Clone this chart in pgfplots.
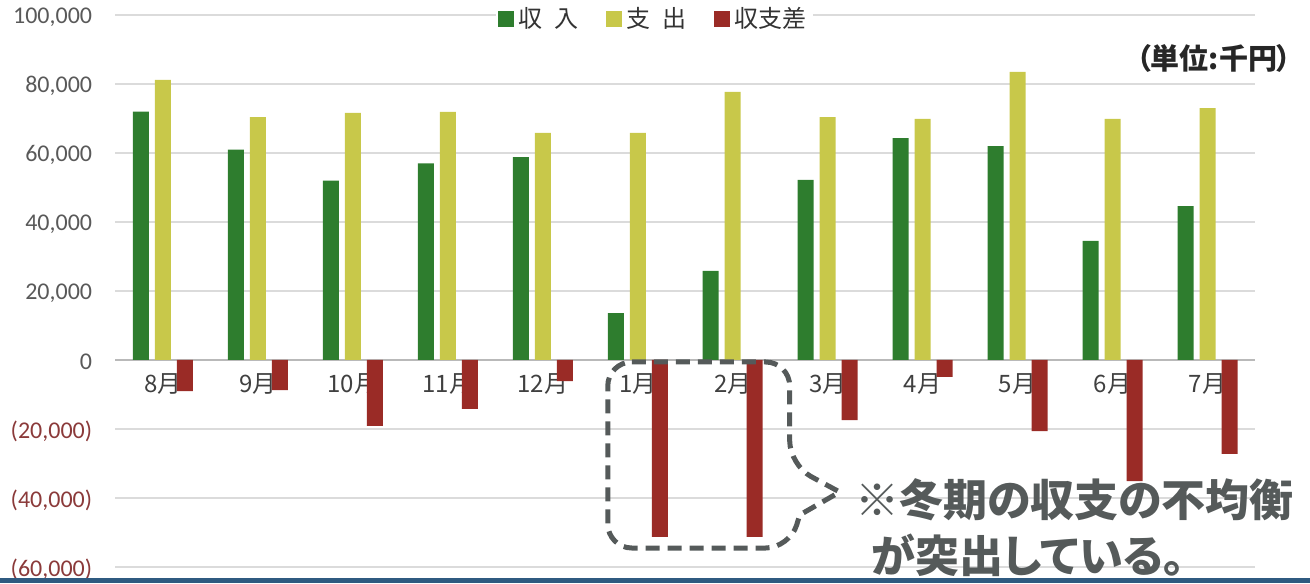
\documentclass[border=0pt]{standalone}
\usepackage{fontspec}
\setmainfont{Carlito}
\newfontfamily\jp{Noto Sans CJK JP}
\newfontfamily\jpp[RawFeature=+palt]{Noto Sans CJK JP}
\usepackage{pgfplots}
\pgfplotsset{compat=1.18}
\definecolor{cgreen}{HTML}{2E7D2E}
\definecolor{cyellow}{HTML}{C8C84A}
\definecolor{cred}{HTML}{9A2B26}
\definecolor{ticklab}{HTML}{595959}
\definecolor{negred}{HTML}{8B3A3A}
\definecolor{annot}{HTML}{555A5A}
\definecolor{frameblue}{HTML}{2F5A80}
\begin{document}
\begin{tikzpicture}
\begin{axis}[
  at={(0,0)}, anchor=south west,
  scale only axis, width=569.75pt, height=276pt,
  xmin=-0.5, xmax=11.5, ymin=-60000, ymax=100000,
  scaled y ticks=false,
  axis x line*=middle, axis y line*=left,
  x axis line style={draw=gray!55, line width=0.8pt},
  y axis line style={draw=none},
  hide obscured y ticks=false,
  ytick={-60000,-40000,-20000,0,20000,40000,60000,80000,100000},
  yticklabels={{\textcolor{negred}{(60,000)}},{\textcolor{negred}{(40,000)}},{\textcolor{negred}{(20,000)}},{0},{20,000},{40,000},{60,000},{80,000},{100,000}},
  yticklabel style={font=\fontsize{12}{13}\selectfont, text=ticklab, inner sep=0.5pt, xshift=-11pt, yshift=-1pt},
  xtick={0,1,2,3,4,5,6,7,8,9,10,11},
  xticklabels={8月,9月,10月,11月,12月,1月,2月,3月,4月,5月,6月,7月},
  xticklabel style={font=\jp\fontsize{12}{13}\selectfont, text=black!75, yshift=-3.5pt},
  major tick length=0pt,
  ymajorgrids, grid style={gray!28, line width=0.7pt},
  ybar, bar width=8pt,
  legend style={at={(0.473,1.026)}, anchor=north, legend columns=-1, draw=none, fill=white,
    inner sep=1pt, font=\jp\fontsize{12}{13}\selectfont, text=black!80,
    /tikz/every even column/.append style={column sep=12pt}},
  legend image code/.code={\fill[#1,draw=none] (0pt,-4pt) rectangle (8pt,4pt);},
]
\addplot[fill=cgreen, draw=none, bar shift=-11pt] coordinates {
 (0,72000) (1,61000) (2,52000) (3,57000) (4,58800) (5,13600)
 (6,25800) (7,52200) (8,64300) (9,62000) (10,34500) (11,44600)};
\addplot[fill=cyellow, draw=none, bar shift=0pt] coordinates {
 (0,81200) (1,70400) (2,71600) (3,71900) (4,65800) (5,65800)
 (6,77700) (7,70400) (8,69900) (9,83500) (10,69900) (11,73000)};
\addplot[fill=cred, draw=none, bar shift=11pt] coordinates {
 (0,-9000) (1,-8700) (2,-19100) (3,-14200) (4,-6100) (5,-51300)
 (6,-51300) (7,-17400) (8,-4900) (9,-20600) (10,-35100) (11,-27200)};
\legend{収\hspace{0.5em}入,支\hspace{0.5em}出,収支差}
\draw[annot, line width=2.5pt, dash pattern=on 7pt off 4pt, rounded corners=12pt]
  (axis cs:4.684,-580) -- (axis cs:6.6,-580) -- (axis cs:6.6,-30435)
  [sharp corners] -- (axis cs:7.126,-38261) -- (axis cs:6.705,-44928)
  [rounded corners=12pt] -- (axis cs:6.6,-54493) -- (axis cs:4.684,-54493) -- cycle;
\end{axis}
\node[font=\jpp\bfseries\fontsize{14.5}{16}\selectfont, text=black!85] at (549.25pt,254.5pt) {（単位:千円）};
\node[font=\jpp\bfseries\fontsize{22}{24}\selectfont, text=annot] at (479.5pt,33.5pt) {※冬期の収支の不均衡};
\node[font=\jpp\bfseries\fontsize{22}{24}\selectfont, text=annot] at (456.5pt,6pt) {が突出している。};
\fill[frameblue] (-57.75pt,-8pt) rectangle (597.25pt,-5.5pt);
\pgfresetboundingbox
\useasboundingbox (-57.75pt,-8pt) rectangle (597.25pt,283.5pt);
\end{tikzpicture}
\end{document}
